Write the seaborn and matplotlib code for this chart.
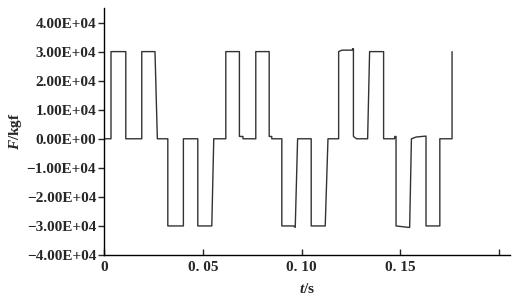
import matplotlib
matplotlib.use("Agg")
import matplotlib.pyplot as plt
import seaborn as sns
import pandas as pd

# time (s) and force (kgf) breakpoints
t_s = [0.0, 0.0033, 0.0033, 0.0108, 0.0108, 0.0189, 0.0189, 0.0256, 0.0268, 0.0321,
       0.0321, 0.0400, 0.0400, 0.0473, 0.0473, 0.0544, 0.0554, 0.0615, 0.0615, 0.0684,
       0.0684, 0.0702, 0.0702, 0.0767, 0.0767, 0.0835, 0.0835, 0.0848, 0.0848, 0.0899,
       0.0899, 0.0960, 0.0967, 0.0979, 0.1048, 0.1048, 0.1119, 0.1133, 0.1187, 0.1187,
       0.1204, 0.1256, 0.1258, 0.1262, 0.1262, 0.1278, 0.1334, 0.1344, 0.1415, 0.1415,
       0.1470, 0.1472, 0.1478, 0.1478, 0.1542, 0.1547, 0.1556, 0.1580, 0.1625, 0.1630,
       0.1630, 0.1700, 0.1700, 0.1762, 0.1762]
F_kgf = [0, 0, 30000, 30000, 0, 0, 30000, 30000, 0, 0,
         -30000, -30000, 0, 0, -30000, -30000, 0, 0, 30000, 30000,
         800, 800, 0, 0, 30000, 30000, 800, 800, 0, 0,
         -30000, -30000, -30500, 0, 0, -30000, -30000, 0, 0, 30000,
         30500, 30500, 31000, 31000, 800, 0, 0, 30000, 30000, 0,
         0, 800, 800, -30000, -30500, -30500, 0, 600, 900, 900,
         -30000, -30000, 0, 0, 30000]

yticks = [40000, 30000, 20000, 10000, 0, -10000, -20000, -30000, -40000]
ytick_labels = ["4.00E+04", "3.00E+04", "2.00E+04", "1.00E+04", "0.00E+00",
                "\u22121.00E+04", "\u22122.00E+04", "\u22123.00E+04", "\u22124.00E+04"]
xticks = [0.0, 0.05, 0.10, 0.15, 0.20]
xtick_labels = ["0", "0. 05", "0. 10", "0. 15", ""]

sns.set_style("ticks")
plt.rcParams['font.family'] = ['Liberation Serif', 'DejaVu Serif']
plt.rcParams['font.weight'] = 'bold'
plt.rcParams['mathtext.fontset'] = 'custom'
plt.rcParams['mathtext.it'] = 'Liberation Serif:italic:bold'
plt.rcParams['mathtext.rm'] = 'Liberation Serif:bold'

df = pd.DataFrame({"t": t_s, "F": F_kgf})

fig = plt.figure(figsize=(5.24, 2.97), dpi=100)
ax = fig.add_axes([0.1994, 0.1414, 0.7736, 0.8316])
sns.lineplot(data=df, x="t", y="F", sort=False, estimator=None, ax=ax,
             color="#333333", linewidth=1.0)

ax.set_xlim(0, 0.2055)
ax.set_ylim(-40000, 45000)
ax.set_yticks(yticks)
ax.set_yticklabels(ytick_labels, fontsize=11, fontweight='bold')
ax.set_xticks(xticks)
ax.set_xticklabels(xtick_labels, fontsize=11, fontweight='bold')
ax.tick_params(axis='y', direction='out', length=4, width=1, pad=2)
ax.tick_params(axis='x', direction='in', length=4, width=1, pad=4)
for s in ['top', 'right']:
    ax.spines[s].set_visible(False)
for s in ['left', 'bottom']:
    ax.spines[s].set_linewidth(1.0)
    ax.spines[s].set_color('black')

ax.set_xlabel("$t$/s", fontsize=11, fontweight='bold', labelpad=6)
ax.set_ylabel("$F$/kgf", fontsize=11, fontweight='bold', labelpad=2)

fig.savefig("out.png", dpi=100)
